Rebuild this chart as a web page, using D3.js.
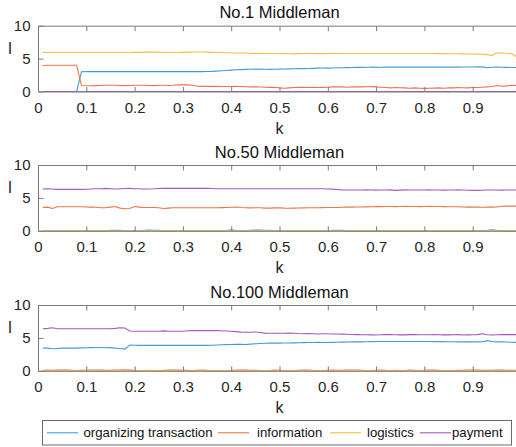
<!DOCTYPE html>
<html><head><meta charset="utf-8">
<script src="https://cdn.jsdelivr.net/npm/d3@7/dist/d3.min.js"></script>
<style>
html,body{margin:0;padding:0;background:#fff;}
svg{display:block;font-family:"Liberation Sans",Arial,Helvetica,sans-serif;}
</style></head><body>
<svg id="c" width="516" height="447"></svg>
<script>
// ---- data ----
const kValues = [0.01,0.02,0.03,0.04,0.05,0.06,0.07,0.08,0.09,0.10,
0.11,0.12,0.13,0.14,0.15,0.16,0.17,0.18,0.19,0.20,
0.21,0.22,0.23,0.24,0.25,0.26,0.27,0.28,0.29,0.30,
0.31,0.32,0.33,0.34,0.35,0.36,0.37,0.38,0.39,0.40,
0.41,0.42,0.43,0.44,0.45,0.46,0.47,0.48,0.49,0.50,
0.51,0.52,0.53,0.54,0.55,0.56,0.57,0.58,0.59,0.60,
0.61,0.62,0.63,0.64,0.65,0.66,0.67,0.68,0.69,0.70,
0.71,0.72,0.73,0.74,0.75,0.76,0.77,0.78,0.79,0.80,
0.81,0.82,0.83,0.84,0.85,0.86,0.87,0.88,0.89,0.90,
0.91,0.92,0.93,0.94,0.95,0.96,0.97,0.98,0.99];

const seriesNames = ["organizing transaction","information","logistics","payment"];
const seriesColors = ["#3f9ddc","#ec7448","#f2be44","#a657c0"];
const panelTitles = ["No.1 Middleman","No.50 Middleman","No.100 Middleman"];
const xTicks = [0,0.1,0.2,0.3,0.4,0.5,0.6,0.7,0.8,0.9];
const xTickLabels = ["0","0.1","0.2","0.3","0.4","0.5","0.6","0.7","0.8","0.9"];
const yTicks = [0,5,10];

// No.1
const org1 = [0,0,0,0,0,0,0,0,3.0,3.02,
3.02,3.02,3.02,3.02,3.02,3.02,3.02,3.02,3.02,3.02,
3.02,3.02,3.02,3.02,3.02,3.02,3.02,3.02,3.02,3.02,
3.02,3.02,3.02,3.02,3.04,3.06,3.1,3.15,3.2,3.25,
3.3,3.33,3.36,3.38,3.4,3.4,3.38,3.36,3.38,3.4,
3.42,3.44,3.45,3.47,3.48,3.5,3.52,3.55,3.56,3.56,
3.58,3.6,3.62,3.63,3.65,3.66,3.67,3.68,3.7,3.66,
3.68,3.7,3.7,3.7,3.7,3.7,3.7,3.7,3.71,3.71,
3.71,3.7,3.7,3.7,3.7,3.7,3.7,3.72,3.72,3.72,
3.74,3.74,3.6,3.68,3.7,3.68,3.66,3.65,3.65];
const info1 = [3.95,4.0,4.0,4.0,4.0,4.0,4.0,4.0,0.9,0.88,
0.88,0.9,0.92,0.95,0.95,0.95,0.92,0.9,0.92,0.95,
0.95,0.95,0.92,0.9,0.95,0.95,0.92,0.95,1.0,1.0,
1.0,0.95,0.8,0.78,0.78,0.8,0.78,0.75,0.75,0.75,
0.78,0.75,0.72,0.7,0.7,0.68,0.65,0.62,0.65,0.55,
0.5,0.55,0.6,0.62,0.65,0.6,0.62,0.6,0.62,0.65,
0.7,0.72,0.7,0.65,0.7,0.72,0.7,0.72,0.74,0.7,
0.65,0.6,0.55,0.6,0.58,0.55,0.5,0.55,0.5,0.48,
0.5,0.52,0.55,0.5,0.55,0.55,0.6,0.58,0.55,0.6,
0.6,0.65,0.7,0.75,0.9,0.8,0.85,0.95,0.9];
const logi1 = [5.95,5.93,5.93,5.93,5.93,5.93,5.93,5.93,5.93,5.93,
5.93,5.93,5.93,5.93,5.93,5.93,5.93,5.93,5.93,5.95,
5.95,5.98,6.0,5.98,5.95,5.93,5.93,5.93,5.93,5.95,
5.98,6.0,6.0,6.0,5.98,5.95,5.93,5.92,5.9,5.88,
5.86,5.85,5.84,5.82,5.8,5.8,5.78,5.78,5.78,5.78,
5.76,5.74,5.72,5.76,5.78,5.8,5.78,5.76,5.76,5.78,
5.8,5.78,5.78,5.78,5.78,5.78,5.78,5.78,5.78,5.78,
5.78,5.78,5.78,5.78,5.78,5.78,5.78,5.78,5.78,5.78,
5.78,5.77,5.76,5.75,5.74,5.74,5.73,5.72,5.7,5.7,
5.68,5.66,5.6,5.5,5.85,5.9,5.82,5.78,5.3];
const pay1 = kValues.map(() => 0);

// No.50
const org50 = [0,0,0,0.02,0,0,0,0,0,0,
0,0,0,0,0.06,0.08,0.06,0,0,0,
0,0.08,0.1,0.08,0.06,0,0,0,0,0,
0,0,0,0,0,0,0,0,0.05,0.15,
0.05,0,0,0.08,0.1,0.1,0.08,0.06,0,0,
0,0,0,0,0,0,0,0,0,0,
0.06,0.08,0.06,0,0,0,0,0,0,0,
0,0,0,0,0,0,0,0,0,0,
0,0,0,0,0,0,0,0,0,0,
0,0,0.06,0.15,0.06,0,0,0,0];
const info50 = [3.55,3.6,3.4,3.65,3.65,3.65,3.65,3.65,3.65,3.62,
3.6,3.58,3.5,3.5,3.6,3.7,3.45,3.35,3.4,3.7,
3.6,3.55,3.55,3.55,3.5,3.4,3.45,3.5,3.5,3.5,
3.5,3.5,3.5,3.5,3.5,3.5,3.5,3.52,3.55,3.58,
3.62,3.55,3.5,3.48,3.5,3.5,3.45,3.45,3.48,3.5,
3.45,3.42,3.44,3.46,3.48,3.5,3.5,3.5,3.52,3.55,
3.55,3.55,3.58,3.6,3.6,3.62,3.62,3.64,3.65,3.7,
3.68,3.7,3.7,3.68,3.7,3.72,3.7,3.7,3.68,3.7,
3.72,3.7,3.7,3.68,3.66,3.66,3.65,3.62,3.6,3.6,
3.6,3.58,3.6,3.6,3.62,3.72,3.75,3.75,3.75];
const logi50 = kValues.map(() => 0);
const pay50 = [6.35,6.4,6.35,6.3,6.3,6.3,6.3,6.3,6.3,6.32,
6.35,6.38,6.4,6.45,6.4,6.35,6.38,6.42,6.45,6.4,
6.38,6.36,6.36,6.38,6.42,6.45,6.45,6.45,6.45,6.45,
6.45,6.45,6.45,6.45,6.45,6.42,6.4,6.4,6.4,6.4,
6.4,6.4,6.4,6.4,6.4,6.4,6.4,6.4,6.4,6.4,
6.38,6.38,6.38,6.38,6.38,6.38,6.38,6.38,6.38,6.36,
6.34,6.28,6.22,6.2,6.2,6.2,6.2,6.22,6.2,6.18,
6.2,6.2,6.22,6.15,6.18,6.22,6.2,6.2,6.2,6.2,
6.22,6.2,6.2,6.18,6.2,6.2,6.22,6.2,6.16,6.15,
6.14,6.16,6.2,6.2,6.2,6.18,6.2,6.2,6.2];

// No.100
const org100 = [3.45,3.45,3.35,3.4,3.45,3.45,3.45,3.45,3.48,3.5,
3.52,3.55,3.55,3.5,3.52,3.45,3.4,3.3,3.9,3.88,
3.86,3.86,3.86,3.86,3.86,3.86,3.86,3.86,3.86,3.86,
3.86,3.86,3.86,3.86,3.86,3.88,3.92,3.96,3.98,4.0,
4.02,4.04,4.0,4.05,4.1,4.15,4.18,4.2,4.2,4.2,
4.22,4.22,4.24,4.26,4.28,4.3,4.3,4.32,4.3,4.3,
4.32,4.34,4.36,4.38,4.4,4.4,4.4,4.42,4.44,4.45,
4.45,4.45,4.45,4.45,4.45,4.46,4.46,4.46,4.45,4.45,
4.45,4.44,4.44,4.43,4.42,4.42,4.4,4.4,4.4,4.4,
4.4,4.42,4.58,4.45,4.4,4.4,4.38,4.35,4.32];
const info100 = [0.05,0.1,0.08,0.1,0.12,0.1,0.08,0.05,0.06,0.08,
0.1,0.12,0.1,0.06,0.08,0.1,0.12,0.14,0.1,0.06,
0,0.05,0.06,0.05,0,0.08,0.12,0.1,0.12,0.08,
0.06,0.05,0.08,0.1,0.06,0,0,0.05,0,0.05,
0.1,0.12,0.1,0.08,0.06,0.05,0,0.05,0.1,0.08,
0.05,0,0.05,0.08,0.12,0.1,0.05,0.04,0.05,0.08,
0.1,0.08,0.06,0.1,0.12,0.1,0.08,0.05,0.05,0.08,
0.1,0.06,0.05,0.06,0.05,0.04,0.1,0.08,0.05,0.08,
0.12,0.1,0.06,0.04,0.05,0.05,0.08,0.06,0.1,0.12,
0.1,0.08,0.06,0.08,0.1,0.1,0.08,0.08,0.08];
const logi100 = kValues.map(() => 0);
const pay100 = [6.4,6.45,6.55,6.4,6.4,6.4,6.4,6.4,6.4,6.4,
6.4,6.4,6.4,6.4,6.4,6.45,6.55,6.5,6.05,6.0,
6.0,6.0,6.0,6.0,6.02,6.06,6.02,6.0,6.0,6.02,
6.08,6.1,6.1,6.1,6.1,6.1,6.1,6.08,6.05,6.0,
5.95,5.88,5.85,5.86,5.9,5.82,5.72,5.7,5.7,5.7,
5.7,5.72,5.7,5.66,5.64,5.65,5.62,5.6,5.62,5.62,
5.6,5.6,5.58,5.56,5.52,5.5,5.48,5.48,5.46,5.45,
5.48,5.5,5.5,5.48,5.46,5.46,5.5,5.5,5.48,5.48,
5.48,5.5,5.48,5.46,5.46,5.48,5.5,5.45,5.46,5.48,
5.5,5.62,5.48,5.45,5.48,5.5,5.5,5.5,5.5];

const panelSeries = [
  [org1, info1, logi1, pay1],
  [org50, info50, logi50, pay50],
  [org100, info100, logi100, pay100]
];

// ---- layout ----
const svg = d3.select("#c");
const axL = 38, axR = 521;
const panelTops = [25.7, 165, 305];
const panelH = 65.8;
const axisColor = "#262626";
const boxColor = "#7a7a7a";
const tickLen = 5;

const x = d3.scaleLinear().domain([0,1]).range([axL, axR]);

panelTops.forEach((top, pi) => {
  const bottom = top + panelH;
  const y = d3.scaleLinear().domain([0,10]).range([bottom, top]);
  const g = svg.append("g");

  const clipId = "clip" + pi;
  svg.append("clipPath").attr("id", clipId).append("rect")
    .attr("x", axL).attr("y", top - 2).attr("width", axR - axL).attr("height", panelH + 4);

  const line = d3.line().x((d, i) => x(kValues[i])).y(d => y(d));
  panelSeries[pi].forEach((vals, si) => {
    g.append("path").datum(vals)
      .attr("d", line)
      .attr("fill", "none")
      .attr("stroke", seriesColors[si])
      .attr("stroke-width", 1.1)
      .attr("clip-path", `url(#${clipId})`);
  });

  g.append("path")
    .attr("d", `M${axR},${top + 0.5}H${axL + 0.5}V${bottom + 0.5}H${axR}`)
    .attr("fill", "none").attr("stroke", boxColor).attr("stroke-width", 1);

  const xAxis = d3.axisBottom(x).tickValues(xTicks)
    .tickFormat((d, i) => xTickLabels[i]).tickSizeInner(-tickLen).tickSizeOuter(0).tickPadding(10);
  const gx = g.append("g").attr("transform", `translate(0,${bottom + 0.5})`).call(xAxis);
  gx.select(".domain").remove();
  gx.selectAll(".tick line").attr("stroke", boxColor);
  gx.selectAll(".tick text").attr("fill", axisColor).attr("font-size", 15)
    .attr("font-family", "Liberation Sans, Arial, sans-serif");

  const xTop = d3.axisTop(x).tickValues(xTicks).tickFormat("").tickSizeInner(-tickLen).tickSizeOuter(0);
  const gt = g.append("g").attr("transform", `translate(0,${top + 0.5})`).call(xTop);
  gt.select(".domain").remove();
  gt.selectAll(".tick line").attr("stroke", boxColor);

  const yAxis = d3.axisLeft(y).tickValues(yTicks).tickSizeInner(-tickLen).tickSizeOuter(0).tickPadding(8);
  const gy = g.append("g").attr("transform", `translate(${axL + 0.5},0)`).call(yAxis);
  gy.select(".domain").remove();
  gy.selectAll(".tick line").attr("stroke", boxColor);
  gy.selectAll(".tick text").attr("fill", axisColor).attr("font-size", 15)
    .attr("font-family", "Liberation Sans, Arial, sans-serif");

  g.append("text").attr("x", (axL + axR) / 2).attr("y", top - 7.5)
    .attr("text-anchor", "middle").attr("font-size", 16.5).attr("fill", "#111")
    .text(panelTitles[pi]);

  g.append("text").attr("x", (axL + axR) / 2).attr("y", bottom + 42)
    .attr("text-anchor", "middle").attr("font-size", 16).attr("fill", axisColor)
    .text("k");

  g.append("text").attr("x", 10).attr("y", top + 22.5)
    .attr("text-anchor", "middle").attr("dominant-baseline", "central")
    .attr("font-size", 16).attr("fill", axisColor)
    .text("I");
});

// ---- legend ----
const lg = svg.append("g");
lg.append("rect").attr("x", 42.5).attr("y", 420.5).attr("width", 469).attr("height", 24.5)
  .attr("fill", "#fff").attr("stroke", "#6a6a6a").attr("stroke-width", 1);
const legendLineX = [47, 218, 330, 420];
const legendTextX = [83.5, 257, 367, 452];
const legendY = 432.8;
seriesNames.forEach((name, i) => {
  lg.append("line").attr("x1", legendLineX[i]).attr("x2", legendLineX[i] + 31)
    .attr("y1", legendY).attr("y2", legendY)
    .attr("stroke", seriesColors[i]).attr("stroke-width", 1.1);
  lg.append("text").attr("x", legendTextX[i]).attr("y", legendY)
    .attr("dominant-baseline", "central").attr("font-size", 13.2).attr("fill", "#111")
    .text(name);
});
</script>
</body></html>
